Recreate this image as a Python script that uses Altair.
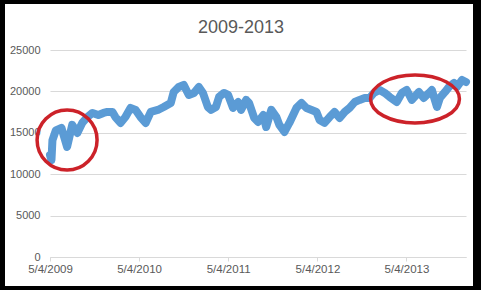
import altair as alt
import pandas as pd

# ---- data ----
dates = [
    "2009-05-04", "2009-05-10", "2009-05-14", "2009-05-28", "2009-06-20", "2009-07-13",
    "2009-08-03", "2009-08-24", "2009-09-13", "2009-10-04", "2009-10-25", "2009-11-18",
    "2009-12-09", "2009-12-25", "2010-01-15", "2010-01-27", "2010-02-17", "2010-03-09",
    "2010-03-30", "2010-04-20", "2010-05-10", "2010-05-31", "2010-06-21", "2010-07-20",
    "2010-08-13", "2010-09-11", "2010-09-23", "2010-10-14", "2010-11-03", "2010-11-24",
    "2010-12-15", "2011-01-04", "2011-01-21", "2011-02-10", "2011-02-23", "2011-03-15",
    "2011-03-28", "2011-04-17", "2011-05-04", "2011-05-24", "2011-06-14", "2011-06-26",
    "2011-07-17", "2011-07-29", "2011-08-19", "2011-09-04", "2011-09-25", "2011-10-07",
    "2011-10-28", "2011-11-18", "2011-11-30", "2011-12-21", "2012-01-10", "2012-02-08",
    "2012-02-29", "2012-03-20", "2012-04-10", "2012-04-30", "2012-05-13", "2012-06-02",
    "2012-06-23", "2012-07-13", "2012-08-03", "2012-08-24", "2012-09-13", "2012-10-04",
    "2012-10-24", "2012-11-14", "2012-12-04", "2012-12-21", "2013-01-14", "2013-02-04",
    "2013-02-24", "2013-03-25", "2013-04-15", "2013-05-05", "2013-05-26", "2013-06-24",
    "2013-07-14", "2013-08-04", "2013-08-16", "2013-09-06", "2013-09-18", "2013-10-09",
    "2013-10-25", "2013-11-15", "2013-11-27", "2013-12-18", "2014-01-03",
]
values = [
    12300, 11700, 14100, 15300, 15600, 13300,
    15950, 14980, 16190, 16900, 17400, 17150,
    17400, 17520, 17520, 16900, 16190, 16900,
    18000, 17760, 16900, 16190, 17520, 17760,
    18120, 18600, 19930, 20540, 20780, 19570,
    19810, 20540, 19810, 18120, 17760, 18120,
    19330, 19810, 19570, 18000, 18720, 17760,
    18970, 18600, 16790, 16310, 17150, 15700,
    17760, 16900, 15950, 15100, 16190, 18000,
    18600, 18000, 17760, 17520, 16550, 16190,
    16900, 17520, 16790, 17520, 18000, 18720,
    18970, 19210, 19210, 19810, 20170, 19810,
    19330, 18720, 19810, 20170, 18970, 19930,
    19210, 19810, 20170, 18120, 19210, 19930,
    20540, 21020, 20540, 21380, 21140,
]

title_text = "2009-2013"
y_ticks = [0, 5000, 10000, 15000, 20000, 25000]
x_tick_years = [2009, 2010, 2011, 2012, 2013]

# highlighted regions (centre date, centre value)
circle_dates = ["2009-07-13"]
circle_values = [14130]
ellipse_dates = ["2013-06-08"]
ellipse_values = [19090]

df = pd.DataFrame({"date": pd.to_datetime(dates), "value": values})
df_circle = pd.DataFrame({"date": pd.to_datetime(circle_dates), "value": circle_values})
df_ellipse = pd.DataFrame({"date": pd.to_datetime(ellipse_dates), "value": ellipse_values})

W, H = 416, 207
PL, PT, PR, PB = 50, 50, 15, 33
x_scale = alt.Scale(domain=[alt.DateTime(year=2009, month=5, date=4),
                            alt.DateTime(year=2014, month=1, date=3)])
y_scale = alt.Scale(domain=[0, 25000], nice=False)

x_axis = alt.Axis(
    values=[alt.DateTime(year=y, month=5, date=4) for y in x_tick_years],
    format="%-m/%-d/%Y", title=None, grid=False,
    domainColor="#D9D9D9", tickColor="#D9D9D9", tickSize=4,
    labelPadding=2, labelFont="Liberation Sans", labelFontSize=11.5,
    labelColor="#595959", labelAlign="center", labelFlush=False,
)
y_axis = alt.Axis(
    values=y_ticks, format="d", title=None, grid=True, gridColor="#D9D9D9",
    domain=False, ticks=False, labelPadding=10,
    labelFont="Liberation Sans", labelFontSize=11, labelColor="#595959",
)

one = alt.Data(values=[{"a": 1}])
def edge(x, x2, y, y2):
    return alt.Chart(one).mark_rect(color="black").encode(
        x=alt.value(x), x2=alt.value(x2), y=alt.value(y), y2=alt.value(y2)
    )

frame_left = edge(-PL, -PL + 5, -PT, H + PB)
frame_top = edge(-PL, W + PR, -PT, -PT + 4)
frame_right = edge(W + 7, W + PR, -PT, H + PB)
frame_bottom = edge(-PL, W + PR, H + 29, H + PB)

line = alt.Chart(df).mark_line(
    color="#5B9BD5", strokeWidth=8, strokeJoin="round", strokeCap="round"
).encode(
    x=alt.X("date:T", scale=x_scale, axis=x_axis),
    y=alt.Y("value:Q", scale=y_scale, axis=y_axis),
)

circle_path = "M -1 0 A 1 1 0 1 0 1 0 A 1 1 0 1 0 -1 0"
ellipse_path = "M -1 0 A 1 0.54 0 1 0 1 0 A 1 0.54 0 1 0 -1 0"

circ = alt.Chart(df_circle).mark_point(
    shape=circle_path, size=3600, filled=False, stroke="#CC2229",
    strokeWidth=3.5, opacity=1
).encode(x=alt.X("date:T", scale=x_scale), y=alt.Y("value:Q", scale=y_scale))

ell = alt.Chart(df_ellipse).mark_point(
    shape=ellipse_path, size=7900, filled=False, stroke="#CC2229",
    strokeWidth=3.5, opacity=1
).encode(x=alt.X("date:T", scale=x_scale), y=alt.Y("value:Q", scale=y_scale))

chart = alt.layer(line, circ, ell, frame_left, frame_top, frame_right, frame_bottom).properties(
    width=W, height=H,
    title=alt.TitleParams(title_text, font="Liberation Sans", fontSize=18,
                          fontWeight="normal", color="#595959", dx=-17, dy=20,
                          baseline="alphabetic", offset=-31),
    autosize=alt.AutoSizeParams(type="none"),
    padding={"left": PL, "top": PT, "right": PR, "bottom": PB},
    background="white",
).configure_view(stroke=None)

chart.save("out.html", embed_options={"renderer": "svg", "actions": False})
